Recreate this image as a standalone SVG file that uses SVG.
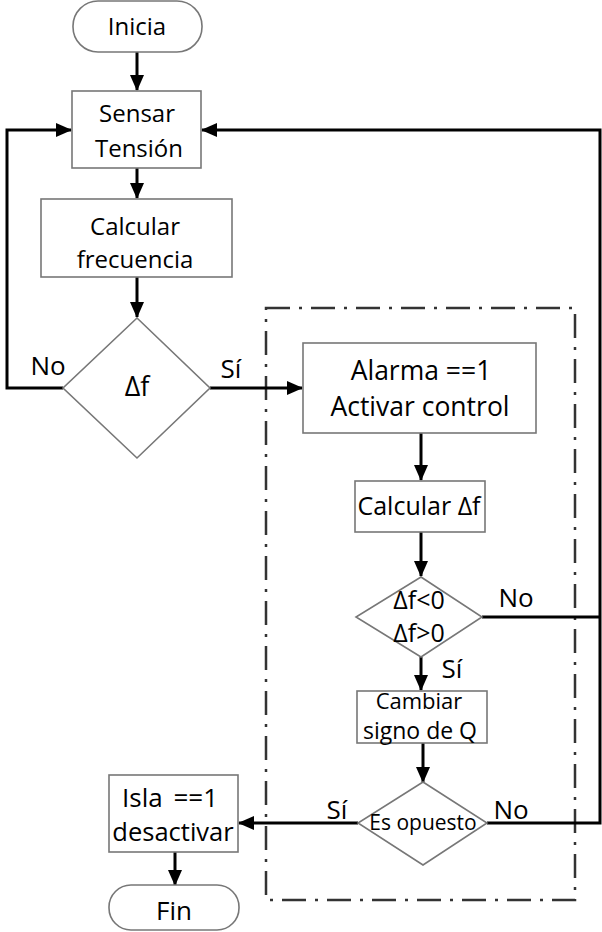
<svg xmlns="http://www.w3.org/2000/svg" width="602" height="932" viewBox="0 0 602 932">
  <style>
    .box { fill: #ffffff; stroke: #777777; stroke-width: 1.6; }
    .txt { font-family: "Open Sans", "Noto Sans", sans-serif; fill: #000000; text-anchor: middle; }
    .lbl { font-family: "Open Sans", "Noto Sans", sans-serif; fill: #000000; text-anchor: middle; font-size: 26px; }
    .wire { fill: none; stroke: #000000; stroke-width: 3; }
    .zone { fill: none; stroke: #333333; stroke-width: 2.5; stroke-dasharray: 24 9 3 9; }
  </style>
  <defs>
    <marker id="arrow" markerUnits="userSpaceOnUse" markerWidth="16" markerHeight="16" viewBox="0 0 16 16" refX="15" refY="8" orient="auto">
      <path d="M0,1 L16,8 L0,15 Z" fill="#000000"/>
    </marker>
  </defs>
  <rect width="602" height="932" fill="#ffffff"/>

  <!-- control zone -->
  <rect class="zone" x="266" y="308" width="309" height="592"/>

  <!-- connectors -->
  <g id="connectors">
    <line class="wire" x1="137" y1="52" x2="137" y2="90" marker-end="url(#arrow)"/>
    <line class="wire" x1="137" y1="168" x2="137" y2="198" marker-end="url(#arrow)"/>
    <line class="wire" x1="137" y1="277" x2="137" y2="317" marker-end="url(#arrow)"/>
    <polyline class="wire" points="63,388 7,388 7,130 71,130" marker-end="url(#arrow)"/>
    <line class="wire" x1="210" y1="388" x2="302" y2="388" marker-end="url(#arrow)"/>
    <line class="wire" x1="421" y1="433" x2="421" y2="480" marker-end="url(#arrow)"/>
    <line class="wire" x1="421" y1="532" x2="421" y2="576" marker-end="url(#arrow)"/>
    <line class="wire" x1="482" y1="617" x2="600" y2="617"/>
    <line class="wire" x1="421" y1="657" x2="421" y2="690" marker-end="url(#arrow)"/>
    <line class="wire" x1="423" y1="743" x2="423" y2="782" marker-end="url(#arrow)"/>
    <polyline class="wire" points="487,823 600,823 600,130 202,130" marker-end="url(#arrow)"/>
    <line class="wire" x1="358" y1="823" x2="239" y2="823" marker-end="url(#arrow)"/>
    <line class="wire" x1="175" y1="852" x2="175" y2="885" marker-end="url(#arrow)"/>
  </g>

  <!-- nodes -->
  <g id="inicia">
    <rect class="box" x="73" y="1" width="129" height="51" rx="25" ry="25"/>
    <text class="txt" x="137" y="35" font-size="24">Inicia</text>
  </g>
  <g id="sensar">
    <rect class="box" x="72" y="91" width="129" height="77"/>
    <text class="txt" x="137" y="122" font-size="24">Sensar</text>
    <text class="txt" x="139" y="157" font-size="24">Tensión</text>
  </g>
  <g id="calcular-frecuencia">
    <rect class="box" x="41" y="199" width="191" height="78"/>
    <text class="txt" x="135" y="235" font-size="24">Calcular</text>
    <text class="txt" x="135" y="268" font-size="24">frecuencia</text>
  </g>
  <g id="delta-f">
    <polygon class="box" points="137,318 210,388 137,458 63,388"/>
    <text class="txt" x="137" y="396" font-size="27">Δf</text>
  </g>
  <g id="alarma">
    <rect class="box" x="303" y="343" width="233" height="90"/>
    <text class="txt" x="421" y="380" font-size="26.5">Alarma ==1</text>
    <text class="txt" x="420" y="416" font-size="26.5">Activar control</text>
  </g>
  <g id="calcular-delta">
    <rect class="box" x="355" y="481" width="130" height="51"/>
    <text class="txt" x="419" y="515" font-size="25">Calcular Δf</text>
  </g>
  <g id="signo-delta">
    <polygon class="box" points="421,577 482,617 421,657 356,617"/>
    <text class="txt" x="419" y="609" font-size="25">Δf&lt;0</text>
    <text class="txt" x="419" y="642" font-size="25">Δf&gt;0</text>
  </g>
  <g id="cambiar">
    <rect class="box" x="357" y="691" width="130" height="52"/>
    <text class="txt" x="419" y="709" font-size="22">Cambiar</text>
    <text class="txt" x="420" y="739" font-size="23">signo de Q</text>
  </g>
  <g id="es-opuesto">
    <polygon class="box" points="423,782 487,823 423,865 358,823"/>
    <text class="txt" x="423" y="830" font-size="21">Es opuesto</text>
  </g>
  <g id="isla">
    <rect class="box" x="109" y="775" width="129" height="77"/>
    <text class="txt" x="170" y="807" font-size="26" word-spacing="4">Isla ==1</text>
    <text class="txt" x="173" y="841" font-size="25.5">desactivar</text>
  </g>
  <g id="fin">
    <rect class="box" x="109" y="885" width="130" height="45" rx="22" ry="22"/>
    <text class="txt" x="174" y="920" font-size="26">Fin</text>
  </g>

  <!-- branch labels -->
  <g id="labels">
    <text class="lbl" x="48" y="375" font-size="27">No</text>
    <text class="lbl" x="231" y="378">Sí</text>
    <text class="lbl" x="516" y="607" font-size="27">No</text>
    <text class="lbl" x="452" y="678" font-size="24">Sí</text>
    <text class="lbl" x="337" y="819">Sí</text>
    <text class="lbl" x="511" y="819" font-size="27">No</text>
  </g>
</svg>
